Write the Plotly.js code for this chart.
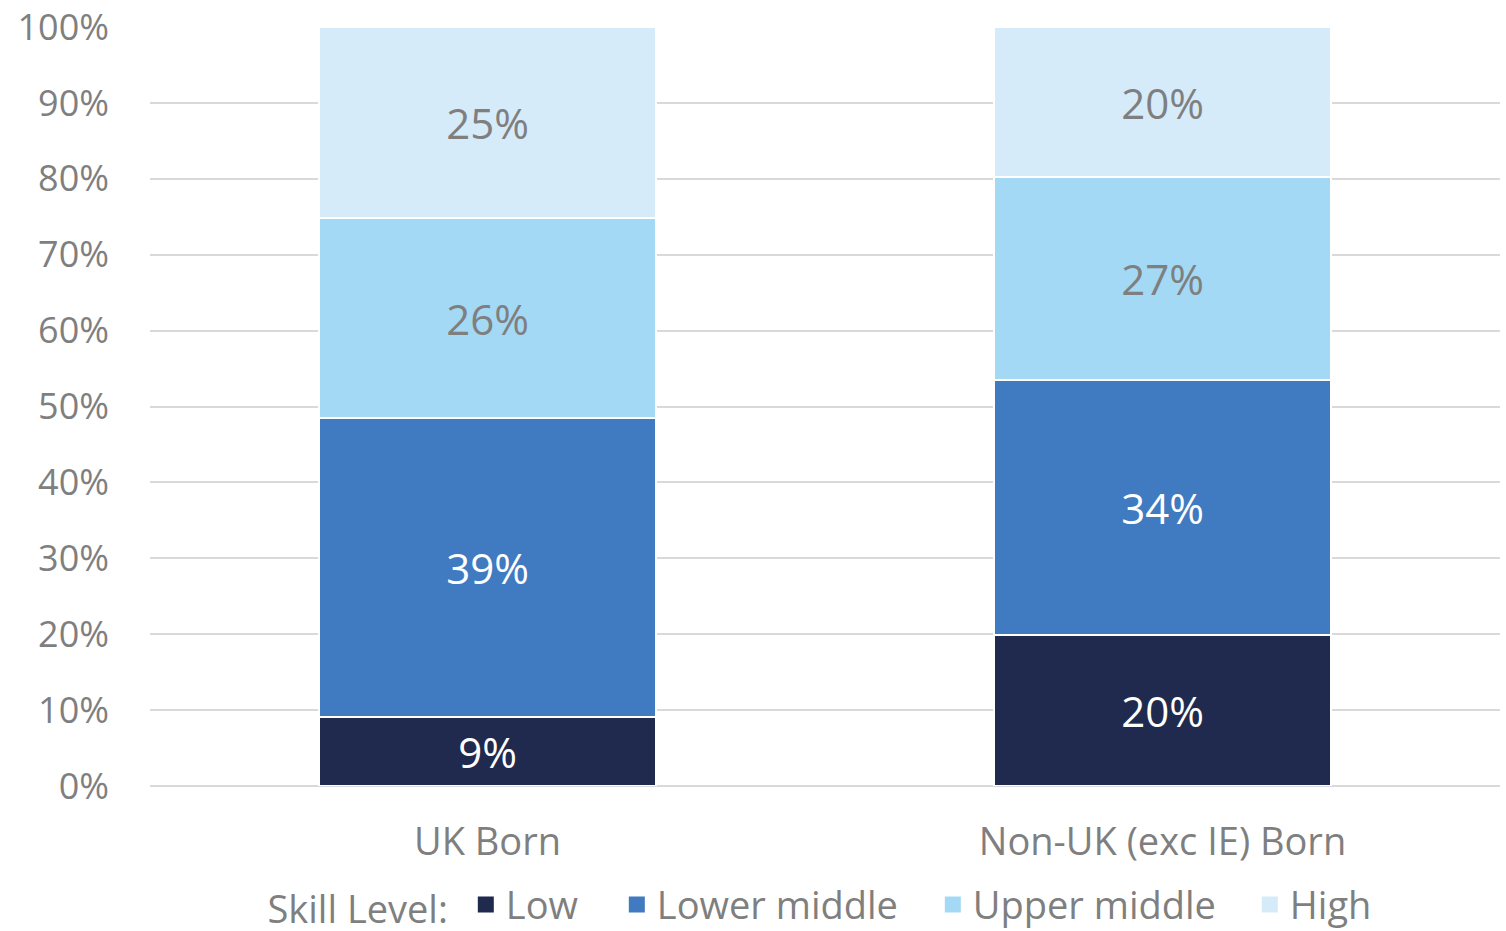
<!DOCTYPE html>
<html><head><meta charset="utf-8">
<script src="https://cdn.plot.ly/plotly-3.0.1.min.js"></script>
<style>html,body{margin:0;padding:0;background:#fff}#chart{width:1506px;height:931px}</style>
</head><body><div id="chart"></div>
<script>
const categories = ["UK Born", "Non-UK (exc IE) Born"];
const seriesNames = ["Low", "Lower middle", "Upper middle", "High"];
const low = [0.091, 0.199];
const lowerMiddle = [0.394, 0.336];
const upperMiddle = [0.263, 0.267];
const high = [0.252, 0.198];
const yTickVals = [0,0.1,0.2,0.3,0.4,0.5,0.6,0.7,0.8,0.9,1.0];
const yTickText = ["0%","10%","20%","30%","40%","50%","60%","70%","80%","90%","100%"];

const colors = ["#1F2A4E", "#407AC0", "#A3D9F5", "#D5EBFA"];
const labelColors = ["#FFFFFF", "#FFFFFF", "#7F7F7F", "#7F7F7F"];
const legendWidths = [106, 271, 272, 80];
const values = [low, lowerMiddle, upperMiddle, high];
const FONT = "Open Sans, sans-serif";

const bars = values.map((v, i) => ({
  type: "bar",
  name: seriesNames[i],
  x: categories,
  y: v,
  showlegend: false,
  marker: {color: colors[i], line: {color: "#FFFFFF", width: 2}},
  texttemplate: "%{y:.0%}",
  textposition: "inside",
  insidetextanchor: "middle",
  constraintext: "none",
  textfont: {family: FONT, size: 42, color: labelColors[i]},
  hoverinfo: "skip"
}));
// legend entries with larger square swatches
const legendEntries = seriesNames.map((n, i) => ({
  type: "scatter", mode: "markers", name: n,
  x: [categories[0]], y: [null],
  marker: {symbol: "square", size: 21, color: colors[i]},
  legendwidth: legendWidths[i],
  showlegend: true, hoverinfo: "skip"
}));

const layout = {
  width: 1506, height: 931,
  margin: {l: 150, r: 6, t: 27, b: 145, autoexpand: false},
  barmode: "stack",
  bargap: 0.5,
  paper_bgcolor: "#fff", plot_bgcolor: "#fff",
  font: {family: FONT, color: "#7F7F7F"},
  showlegend: true,
  legend: {
    orientation: "h", x: 0.0855, xanchor: "left", y: -0.115, yanchor: "top",
    font: {family: FONT, size: 38, color: "#7F7F7F"},
    title: {text: "Skill Level:&nbsp;", side: "left", font: {family: FONT, size: 38, color: "#7F7F7F"}},
    traceorder: "normal"
  },
  xaxis: {
    type: "category",
    tickfont: {family: FONT, size: 38, color: "#7F7F7F"},
    showline: false, ticks: "", showgrid: false,
    ticklabelstandoff: 30
  },
  yaxis: {
    range: [0, 1.0],
    tickvals: yTickVals, ticktext: yTickText,
    tickfont: {family: FONT, size: 36, color: "#7F7F7F"},
    showgrid: true, gridcolor: "#D9D9D9", gridwidth: 2,
    zeroline: true, zerolinecolor: "#D9D9D9", zerolinewidth: 2,
    showline: false, ticks: "",
    ticklabelstandoff: 40
  }
};

Plotly.newPlot("chart", bars.concat(legendEntries), layout, {displayModeBar: false, staticPlot: true});
</script></body></html>
